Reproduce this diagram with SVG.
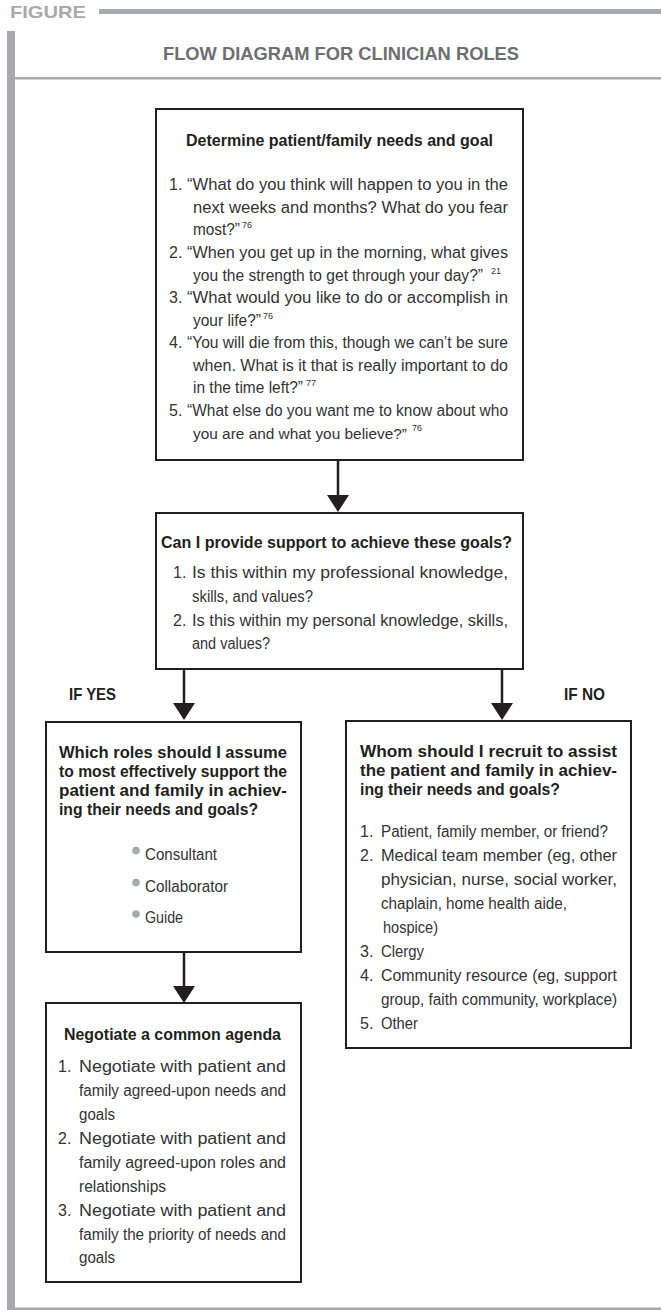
<svg xmlns="http://www.w3.org/2000/svg" width="661" height="1310" viewBox="0 0 661 1310">
<style>
text{font-family:"Liberation Sans",Arial,sans-serif}
.box{fill:#ffffff;stroke:#231f20;stroke-width:2}
.t{font-size:16px;fill:#333333}
.h{font-size:16.5px;font-weight:bold;fill:#231f20}
.sup{font-size:9px;fill:#333333}
.lab{font-size:17px;font-weight:bold;fill:#231f20}
.bar{fill:#a7a9ac}
.bul{fill:#a7a9ac}
.shaft{stroke:#231f20;stroke-width:2.5;fill:none}
.head{fill:#231f20}
</style>

<g id="frame">
  <text x="10" y="18" textLength="76" lengthAdjust="spacingAndGlyphs" style="font-size:17px;font-weight:bold;fill:#a7a9ac">FIGURE</text>
  <rect class="bar" x="99" y="9" width="562" height="5"/>
  <rect class="bar" x="7" y="31" width="8" height="1279"/>
  <rect class="bar" x="15" y="77" width="646" height="2.5"/>
  <rect class="bar" x="15" y="1307.5" width="646" height="2.5"/>
  <text x="163" y="60" textLength="356" lengthAdjust="spacingAndGlyphs" style="font-size:18px;font-weight:bold;fill:#6d6e71">FLOW DIAGRAM FOR CLINICIAN ROLES</text>
</g>

<g id="connectors">
  <line class="shaft" x1="338" y1="460" x2="338" y2="497"/>
  <polygon class="head" points="327,495 349,495 338,512"/>
  <line class="shaft" x1="184" y1="669" x2="184" y2="705"/>
  <polygon class="head" points="173,703 195,703 184,720"/>
  <line class="shaft" x1="502" y1="669" x2="502" y2="705"/>
  <polygon class="head" points="491,703 513,703 502,720"/>
  <line class="shaft" x1="184" y1="952" x2="184" y2="988"/>
  <polygon class="head" points="173,986 195,986 184,1003"/>
</g>

<g id="node-determine">
  <rect class="box" x="156" y="109" width="367" height="351"/>
  <text class="h" x="186" y="146" textLength="307" lengthAdjust="spacingAndGlyphs">Determine patient/family needs and goal</text>
  <text class="t" x="169" y="190">1.</text>
  <text class="t" x="187" y="190" textLength="321" lengthAdjust="spacingAndGlyphs">“What do you think will happen to you in the</text>
  <text class="t" x="193" y="212.5" textLength="315" lengthAdjust="spacingAndGlyphs">next weeks and months?  What do you fear</text>
  <text class="t" x="193" y="235" textLength="47" lengthAdjust="spacingAndGlyphs">most?”</text>
  <text class="sup" x="242" y="228">76</text>
  <text class="t" x="169" y="258">2.</text>
  <text class="t" x="187" y="258" textLength="321" lengthAdjust="spacingAndGlyphs">“When you get up in the morning, what gives</text>
  <text class="t" x="193" y="280.5" textLength="290" lengthAdjust="spacingAndGlyphs">you the strength to get through your day?”</text>
  <text class="sup" x="491" y="274">21</text>
  <text class="t" x="169" y="303">3.</text>
  <text class="t" x="187" y="303" textLength="321" lengthAdjust="spacingAndGlyphs">“What would you like to do or accomplish in</text>
  <text class="t" x="193" y="325.5" textLength="68" lengthAdjust="spacingAndGlyphs">your life?”</text>
  <text class="sup" x="263" y="319">76</text>
  <text class="t" x="169" y="348">4.</text>
  <text class="t" x="187" y="348" textLength="321" lengthAdjust="spacingAndGlyphs">“You will die from this, though we can’t be sure</text>
  <text class="t" x="193" y="370.5" textLength="315" lengthAdjust="spacingAndGlyphs">when.  What is it that is really important to do</text>
  <text class="t" x="193" y="393" textLength="110" lengthAdjust="spacingAndGlyphs">in the time left?”</text>
  <text class="sup" x="306" y="386">77</text>
  <text class="t" x="169" y="416">5.</text>
  <text class="t" x="187" y="416" textLength="321" lengthAdjust="spacingAndGlyphs">“What else do you want me to know about who</text>
  <text class="t" x="193" y="438.5" textLength="214" lengthAdjust="spacingAndGlyphs" style="font-size:15.4px">you are and what you believe?”</text>
  <text class="sup" x="412" y="431">76</text>
</g>

<g id="node-support">
  <rect class="box" x="156" y="513" width="367" height="156"/>
  <text class="h" x="161" y="548" textLength="351" lengthAdjust="spacingAndGlyphs">Can I provide support to achieve these goals?</text>
  <text class="t" x="173" y="578">1.</text>
  <text class="t" x="192" y="578" textLength="316" lengthAdjust="spacingAndGlyphs">Is this within my professional knowledge,</text>
  <text class="t" x="192" y="602" textLength="121" lengthAdjust="spacingAndGlyphs">skills, and values?</text>
  <text class="t" x="173" y="626">2.</text>
  <text class="t" x="192" y="626" textLength="316" lengthAdjust="spacingAndGlyphs">Is this within my personal knowledge, skills,</text>
  <text class="t" x="192" y="649" textLength="78" lengthAdjust="spacingAndGlyphs">and values?</text>
</g>

<g id="label-yes">
  <text class="lab" x="69" y="700" textLength="47" lengthAdjust="spacingAndGlyphs">IF YES</text>
</g>
<g id="label-no">
  <text class="lab" x="564" y="700" textLength="41" lengthAdjust="spacingAndGlyphs">IF NO</text>
</g>

<g id="node-roles">
  <rect class="box" x="46" y="722" width="255" height="230"/>
  <text class="h" x="59" y="758" textLength="228" lengthAdjust="spacingAndGlyphs">Which roles should I assume</text>
  <text class="h" x="59" y="777" textLength="228" lengthAdjust="spacingAndGlyphs">to most effectively support the</text>
  <text class="h" x="59" y="796" textLength="228" lengthAdjust="spacingAndGlyphs">patient and family in achiev-</text>
  <text class="h" x="59" y="815" textLength="199" lengthAdjust="spacingAndGlyphs">ing their needs and goals?</text>
  <circle class="bul" cx="136" cy="850.5" r="3.8"/>
  <text class="t" x="145" y="860" textLength="72" lengthAdjust="spacingAndGlyphs">Consultant</text>
  <circle class="bul" cx="136" cy="882.5" r="3.8"/>
  <text class="t" x="145" y="892" textLength="83" lengthAdjust="spacingAndGlyphs">Collaborator</text>
  <circle class="bul" cx="136" cy="914" r="3.8"/>
  <text class="t" x="145" y="923" textLength="38" lengthAdjust="spacingAndGlyphs">Guide</text>
</g>

<g id="node-recruit">
  <rect class="box" x="346" y="721" width="285" height="327"/>
  <text class="h" x="360" y="757" textLength="257" lengthAdjust="spacingAndGlyphs">Whom should I recruit to assist</text>
  <text class="h" x="360" y="776" textLength="257" lengthAdjust="spacingAndGlyphs">the patient and family in achiev-</text>
  <text class="h" x="360" y="795" textLength="200" lengthAdjust="spacingAndGlyphs">ing their needs and goals?</text>
  <text class="t" x="360" y="837">1.</text>
  <text class="t" x="381" y="837" textLength="227" lengthAdjust="spacingAndGlyphs">Patient, family member, or friend?</text>
  <text class="t" x="360" y="861">2.</text>
  <text class="t" x="381" y="861" textLength="236" lengthAdjust="spacingAndGlyphs">Medical team member (eg, other</text>
  <text class="t" x="381" y="884.5" textLength="236" lengthAdjust="spacingAndGlyphs">physician, nurse, social worker,</text>
  <text class="t" x="381" y="908.5" textLength="186" lengthAdjust="spacingAndGlyphs">chaplain, home health aide,</text>
  <text class="t" x="383" y="933" textLength="55" lengthAdjust="spacingAndGlyphs">hospice)</text>
  <text class="t" x="360" y="957">3.</text>
  <text class="t" x="381" y="957" textLength="43" lengthAdjust="spacingAndGlyphs">Clergy</text>
  <text class="t" x="360" y="981">4.</text>
  <text class="t" x="381" y="981" textLength="236" lengthAdjust="spacingAndGlyphs">Community resource (eg, support</text>
  <text class="t" x="381" y="1004.5" textLength="236" lengthAdjust="spacingAndGlyphs">group, faith community, workplace)</text>
  <text class="t" x="360" y="1028.5">5.</text>
  <text class="t" x="381" y="1028.5" textLength="37" lengthAdjust="spacingAndGlyphs">Other</text>
</g>

<g id="node-agenda">
  <rect class="box" x="46" y="1003" width="255" height="279"/>
  <text class="h" x="64" y="1040" textLength="217" lengthAdjust="spacingAndGlyphs">Negotiate a common agenda</text>
  <text class="t" x="58" y="1072">1.</text>
  <text class="t" x="79" y="1072" textLength="207" lengthAdjust="spacingAndGlyphs">Negotiate with patient and</text>
  <text class="t" x="79" y="1096" textLength="207" lengthAdjust="spacingAndGlyphs">family agreed-upon needs and</text>
  <text class="t" x="79" y="1120" textLength="36" lengthAdjust="spacingAndGlyphs">goals</text>
  <text class="t" x="58" y="1144">2.</text>
  <text class="t" x="79" y="1144" textLength="207" lengthAdjust="spacingAndGlyphs">Negotiate with patient and</text>
  <text class="t" x="79" y="1168" textLength="207" lengthAdjust="spacingAndGlyphs">family agreed-upon roles and</text>
  <text class="t" x="79" y="1192" textLength="87" lengthAdjust="spacingAndGlyphs">relationships</text>
  <text class="t" x="58" y="1216">3.</text>
  <text class="t" x="79" y="1216" textLength="207" lengthAdjust="spacingAndGlyphs">Negotiate with patient and</text>
  <text class="t" x="79" y="1240" textLength="207" lengthAdjust="spacingAndGlyphs">family the priority of needs and</text>
  <text class="t" x="79" y="1263" textLength="36" lengthAdjust="spacingAndGlyphs">goals</text>
</g>
</svg>
